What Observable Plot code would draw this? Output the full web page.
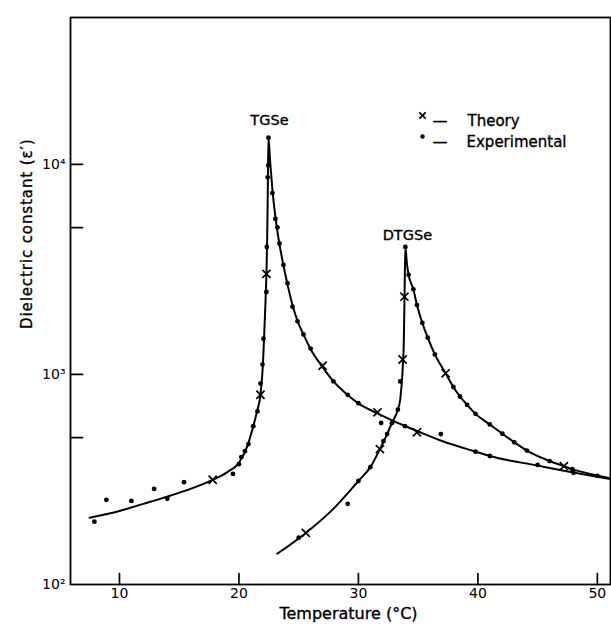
<!DOCTYPE html>
<html><head><meta charset="utf-8">
<script src="https://cdn.jsdelivr.net/npm/d3@7"></script>
<script src="https://cdn.jsdelivr.net/npm/@observablehq/plot@0.6"></script>
<style>body{margin:0;background:#fff;}</style>
</head><body><div id="chart"></div>
<script>
// ---- data ----
const xTicks = [10, 20, 30, 40, 50];
const yTickMarks = [500, 1000, 5000, 10000];
const yTickLabels = [100, 1000, 10000, 50000];
const yTickText = {100: "10²", 1000: "10³", 10000: "10⁴", 50000: "5x10⁴"};

// TGSe fitted curve
const tgseCurveT = [7.5, 10, 12, 14, 16, 17.8, 19, 20, 20.7, 21.2, 21.55, 21.8, 22.0, 22.1, 22.22, 22.3, 22.36, 22.42, 22.47, 22.6, 22.8, 23.05, 23.39, 23.72, 24.06, 24.48, 24.9, 25.4, 26.0, 27.0, 27.9, 29.1, 30.0, 31.6, 32.85, 34.0, 35.0, 37.0, 39.8, 41.0, 45.0, 48.0, 51.1];
const tgseCurveE = [208, 224, 242, 262, 286, 315, 342, 380, 456, 567, 680, 800, 1100, 1480, 2200, 3010, 4300, 8000, 13400, 10470, 7590, 5620, 4170, 3310, 2690, 2140, 1800, 1550, 1318, 1084, 929, 798, 728, 652, 603, 565, 535, 482, 429, 409, 368, 341, 318];
// DTGSe fitted curve
const dtgseCurveT = [23.2, 25.6, 27.9, 30.0, 31.0, 31.8, 32.4, 32.8, 33.3, 33.5, 33.7, 33.8, 33.86, 33.93, 34.05, 34.2, 34.6, 34.9, 35.35, 35.8, 36.4, 37.3, 37.95, 38.5, 39.1, 39.8, 41.0, 42.05, 43.05, 44.1, 46.0, 47.2, 47.9, 49.5, 51.1];
const dtgseCurveE = [140, 176, 229, 311, 362, 441, 520, 586, 680, 760, 1050, 1450, 2345, 4045, 3400, 2979, 2541, 2138, 1758, 1496, 1245, 1012, 871, 785, 716, 649, 578, 522, 475, 434, 387, 366, 354, 335, 320];

// Theory points (x)
const theoryT = [17.8, 21.8, 22.3, 27.0, 31.6, 34.9, 25.6, 31.8, 33.7, 33.85, 37.3, 47.2];
const theoryE = [315, 800, 3010, 1100, 660, 530, 176, 441, 1178, 2345, 1012, 366];

// Experimental points (•)
const expT = [7.9, 8.9, 11.0, 12.9, 14.0, 15.4, 19.5, 20.0, 20.2, 20.5, 20.8, 21.2, 21.55, 21.8, 21.97, 22.05, 22.3, 22.33, 22.4, 22.45, 22.47, 22.8, 23.05, 23.22, 23.39, 23.72, 24.06, 24.48, 24.9, 25.4, 26.0, 27.9, 29.1, 30.0, 31.9, 33.9, 36.9, 39.8, 41.0, 45.0, 48.0, 50.0,
  25.0, 29.1, 30.0, 31.0, 32.1, 32.4, 32.8, 33.3, 33.5, 33.93, 34.2, 34.6, 34.9, 35.35, 35.8, 36.4, 37.95, 38.5, 39.1, 39.8, 41.0, 42.05, 43.05, 44.1, 46.0, 47.9];
const expE = [199, 253, 250, 285, 256, 307, 336, 374, 404, 431, 466, 567, 667, 905, 1114, 1480, 2470, 4045, 8670, 9880, 13400, 7300, 5500, 5010, 4200, 3320, 2720, 2100, 1790, 1550, 1327, 927, 800, 729, 587, 567, 520, 429, 409, 371, 340, 329,
  167, 242, 311, 362, 481, 520, 586, 680, 926, 4045, 2980, 2541, 2138, 1758, 1496, 1245, 871, 785, 716, 649, 578, 522, 475, 434, 387, 354];

const seriesNames = ["TGSe", "DTGSe"];
const legendLabels = ["Theory", "Experimental"];
const xLabel = "Temperature (°C)";
const yLabel = "Dielectric constant (ε′)";

// ---- build tables ----
const tgse = tgseCurveT.map((t, i) => ({T: t, e: tgseCurveE[i]}));
const dtgse = dtgseCurveT.map((t, i) => ({T: t, e: dtgseCurveE[i]}));
const theory = theoryT.map((t, i) => ({T: t, e: theoryE[i]}));
const exp = expT.map((t, i) => ({T: t, e: expE[i]}));
const peakT = {...d3.greatest(tgse, d => d.e), name: seriesNames[0]};
const peakD = {...d3.greatest(dtgse, d => d.e), name: seriesNames[1]};

const tickShape = {draw(context, l) { context.moveTo(0, 0); context.lineTo(0, -l); }};
const font = "'DejaVu Sans', sans-serif";
const ink = {fill: "black", stroke: "black", strokeWidth: 0.35};

const chart = Plot.plot({
  width: 611, height: 629,
  marginLeft: 70, marginRight: 1, marginTop: 17, marginBottom: 45,
  x: {domain: [5.9, 51.1]},
  y: {type: "log", domain: [100, 50000]},
  style: {fontFamily: font, fontSize: "14px", background: "white", color: "black"},
  marks: [
    Plot.frame({stroke: "black", strokeWidth: 1.8}),
    Plot.vector(xTicks, {x: d => d, frameAnchor: "bottom", length: 11, rotate: 0, anchor: "start", shape: tickShape, stroke: "black", strokeWidth: 1.7}),
    Plot.vector(yTickMarks, {y: d => d, frameAnchor: "left", length: 12, rotate: 90, anchor: "start", shape: tickShape, stroke: "black", strokeWidth: 1.7}),
    Plot.axisX({ticks: xTicks, tickSize: 0, tickPadding: 4, label: null, fontSize: 14, ...ink}),
    Plot.axisY({ticks: yTickLabels, tickFormat: d => yTickText[d], tickSize: 0, tickPadding: 5, label: null, fontSize: 14, ...ink}),
    Plot.text([xLabel], {text: d => d, frameAnchor: "bottom", dy: 34, dx: 8, fontSize: 16, ...ink}),
    Plot.text([yLabel], {text: d => d, frameAnchor: "left", rotate: -90, dx: -43, dy: 28, fontSize: 15, ...ink}),
    Plot.line(tgse, {x: "T", y: "e", curve: "monotone-x", stroke: "black", strokeWidth: 2, clip: true}),
    Plot.line(dtgse, {x: "T", y: "e", curve: "monotone-x", stroke: "black", strokeWidth: 2, clip: true}),
    Plot.dot(exp, {x: "T", y: "e", r: 2.4, fill: "black", stroke: null}),
    Plot.dot(theory, {x: "T", y: "e", symbol: "times", r: 3.8, stroke: "black", strokeWidth: 1.7}),
    Plot.text([peakT], {x: "T", y: "e", text: "name", dy: -17, dx: 1, fontSize: 14.5, ...ink}),
    Plot.text([peakD], {x: "T", y: "e", text: "name", dy: -12, dx: 2, fontSize: 14.5, ...ink}),
    // legend
    Plot.dot([0], {frameAnchor: "top-left", dx: 352, dy: 98, symbol: "times", r: 3.0, stroke: "black", strokeWidth: 1.7}),
    Plot.dot([0], {frameAnchor: "top-left", dx: 352, dy: 119, r: 2.2, fill: "black", stroke: null}),
    Plot.text(["—"], {frameAnchor: "top-left", text: d => d, dx: 362, dy: 98, fontSize: 15, textAnchor: "start", ...ink}),
    Plot.text([legendLabels[0]], {frameAnchor: "top-left", text: d => d, dx: 397, dy: 98, fontSize: 15, textAnchor: "start", ...ink}),
    Plot.text(["—"], {frameAnchor: "top-left", text: d => d, dx: 362, dy: 119, fontSize: 15, textAnchor: "start", ...ink}),
    Plot.text([legendLabels[1]], {frameAnchor: "top-left", text: d => d, dx: 396, dy: 119, fontSize: 15, textAnchor: "start", ...ink})
  ]
});
d3.select(chart).selectAll("text").filter(function() { return this.textContent === yLabel; }).style("letter-spacing", "0.9px");
document.getElementById("chart").append(chart);
</script>
</body></html>
